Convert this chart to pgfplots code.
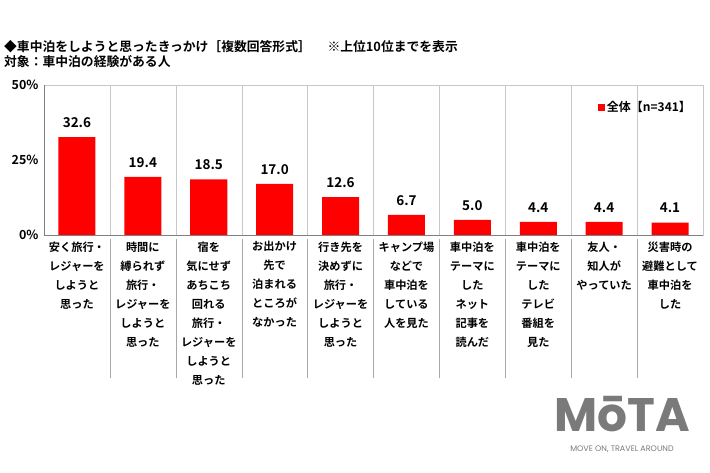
\documentclass[border=0pt]{standalone}
\usepackage{fontspec}
\setmainfont{Noto Sans CJK JP}[BoldFont={* Bold}]
\newfontfamily\logofont{Poppins}[BoldFont={* Bold}]
\usepackage{pgfplots}
\pgfplotsset{compat=1.18}
\definecolor{barRed}{HTML}{FF0000}
\definecolor{frameGray}{HTML}{C8C8C8}
\definecolor{sepGray}{HTML}{A8A8A8}
\definecolor{logoGray}{HTML}{7A7A7A}

\begin{document}
\begin{tikzpicture}[font=\bfseries]
\useasboundingbox (0,0) rectangle (710pt,473pt);
% titles
\node[anchor=base west,inner sep=0pt,font=\fontsize{12.8}{14}\selectfont\bfseries] at (4pt,421pt)
  {◆車中泊をしようと思ったきっかけ［複数回答形式］\hspace{1.3em}※上位10位までを表示};
\node[anchor=base west,inner sep=0pt,font=\fontsize{12.8}{14}\selectfont\bfseries] at (4pt,406pt)
  {対象：車中泊の経験がある人};
\begin{axis}[
    at={(44pt,238pt)}, anchor=south west,
    scale only axis, width=659pt, height=150pt,
    ybar, bar width=37pt,
    xmin=-0.5, xmax=9.5, ymin=0, ymax=50,
    /pgf/number format/assume math mode=true,
    xtick={0,...,9},
    xticklabels={
      {安く旅行・\\レジャーを\\しようと\\思った},
      {時間に\\縛られず\\旅行・\\レジャーを\\しようと\\思った},
      {宿を\\気にせず\\あちこち\\回れる\\旅行・\\レジャーを\\しようと\\思った},
      {お出かけ\\先で\\泊まれる\\ところが\\なかった},
      {行き先を\\決めずに\\旅行・\\レジャーを\\しようと\\思った},
      {キャンプ場\\などで\\車中泊を\\している\\人を見た},
      {車中泊を\\テーマに\\した\\ネット\\記事を\\読んだ},
      {車中泊を\\テーマに\\した\\テレビ\\番組を\\見た},
      {友人・\\知人が\\やっていた},
      {災害時の\\避難として\\車中泊を\\した}},
    x tick label style={align=center, font=\fontsize{11.2}{19}\selectfont\bfseries, yshift=-3pt},
    ytick={0,25,50},
    yticklabel={\pgfmathprintnumber{\tick}\%},
    y tick label style={font=\fontsize{12.5}{14}\selectfont\bfseries, xshift=-2pt},
    major tick length=0pt,
    axis line style={frameGray},
    clip=false,
    nodes near coords,
    nodes near coords style={font=\fontsize{13.5}{15}\selectfont\bfseries, black, yshift=6pt,
      /pgf/number format/fixed, /pgf/number format/fixed zerofill,
      /pgf/number format/precision=1, /pgf/number format/assume math mode=true},
    legend style={at={(0.985,0.85)}, anchor=east, draw=none, fill=none,
      font=\fontsize{12}{13}\selectfont\bfseries, inner sep=0pt},
    legend image code/.code={\fill[barRed] (0pt,-3.5pt) rectangle (7pt,3.5pt);},
  ]
  \addplot[fill=barRed, draw=none] coordinates {
    (0,32.6) (1,19.4) (2,18.5) (3,17.0) (4,12.6)
    (5,6.7) (6,5.0) (7,4.4) (8,4.4) (9,4.1)};
  \addlegendentry{全体【n=341】}
  \pgfplotsinvokeforeach{0.5,1.5,...,8.5}{
    \draw[frameGray] (axis cs:#1,0) -- (axis cs:#1,50);
    \draw[sepGray] ([yshift=-4pt]axis cs:#1,0) -- ([yshift=-143pt]axis cs:#1,0);
  }
  \draw[gray] (axis cs:-0.5,0) -- (axis cs:9.5,0);
  \draw[gray] (axis cs:-0.5,0) -- (axis cs:-0.5,50);
\end{axis}
% logo
\node[anchor=base,inner sep=0pt,text depth=0pt,text=logoGray,font=\logofont\fontsize{47}{47}\selectfont\bfseries] at (622pt,41pt) {MōTA};
\node[anchor=base,inner sep=0pt,text=logoGray,font=\logofont\fontsize{8}{9}\selectfont] at (622pt,21pt) {MOVE ON, TRAVEL AROUND};
\end{tikzpicture}
\end{document}
